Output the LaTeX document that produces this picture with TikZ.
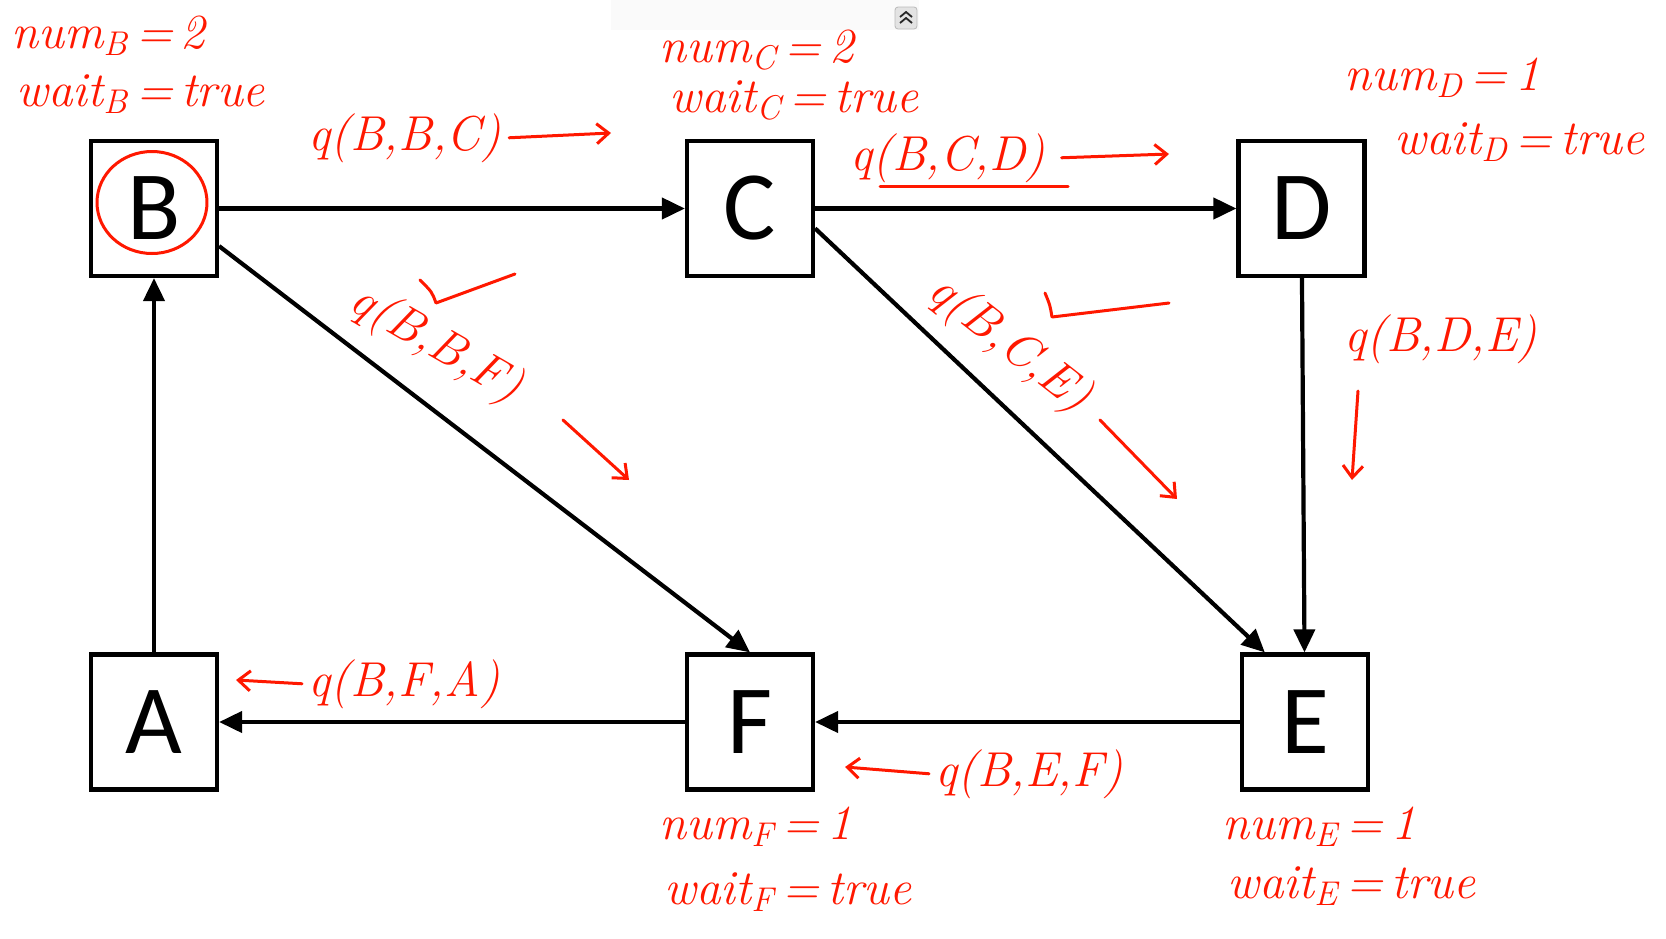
\documentclass[tikz,border=0pt]{standalone}
\usepackage{fontspec}
\usetikzlibrary{arrows.meta}
\newfontfamily\boxfont{Carlito}
\definecolor{penred}{RGB}{255,24,0}

\tikzstyle{vertex}=[draw=black, line width=2.1pt, minimum width=63pt, minimum height=67.5pt, inner sep=0pt, font={\boxfont\fontsize{49}{49}\selectfont}]
\tikzstyle{link}=[line width=2.1pt, -{Triangle[length=11.5pt,width=10.5pt]}]
\tikzstyle{scribble}=[text=penred, font={\itshape\fontsize{24.5}{24.5}\selectfont}, inner sep=0pt, anchor=base west]
\tikzstyle{penline}=[draw=penred, line width=1.5pt, line cap=round, line join=round]
\tikzstyle{penarrow}=[penline, -{Straight Barb[length=6pt,width=10pt]}]

\begin{document}
\begin{tikzpicture}[x=0.5pt,y=-0.5pt]
    \useasboundingbox (0,0) rectangle (1666,938);
    \fill [gray!4] (611,0) rectangle (919,30);
    \node [draw=gray!55, fill=gray!22, rounded corners=1.5pt, minimum width=11pt, minimum height=11pt, inner sep=0pt] (btn) at (906,18) {};
    \draw [gray!30!black, line width=0.9pt] ([shift={(-3pt,0.5pt)}]btn.center) -- ([shift={(0pt,3pt)}]btn.center) -- ([shift={(3pt,0.5pt)}]btn.center)
        ([shift={(-3pt,-2.5pt)}]btn.center) -- ([shift={(0pt,0pt)}]btn.center) -- ([shift={(3pt,-2.5pt)}]btn.center);

    \node [vertex] (B) at (154,208.5) {B};
    \node [vertex] (C) at (750,208.5) {C};
    \node [vertex] (D) at (1301.5,208.5) {D};
    \node [vertex] (A) at (154,722) {A};
    \node [vertex] (F) at (750,722) {F};
    \node [vertex] (E) at (1305,722) {E};

    \draw [link] (A) -- (B);
    \draw [link] (B) -- (C);
    \draw [link] (C) -- (D);
    \draw [link] (B.-30) -- (F.north);
    \draw [link] (C.-17) -- (E.120);
    \draw [link] (D) -- (E);
    \draw [link] (E) -- (F);
    \draw [link] (F) -- (A);

    \draw [penline] (B.center) ++(-2,-6) ellipse [x radius=27.5pt, y radius=25.5pt];

    \node [scribble] (numB) at (11,48) {num\textsubscript{B}\,=\,2};
    \node [scribble] (waitB) at (16,106) {wait\textsubscript{B}\,=\,true};
    \node [scribble] (numC) at (659,62) {num\textsubscript{C}\,=\,2};
    \node [scribble] (waitC) at (669,112) {wait\textsubscript{C}\,=\,true};
    \node [scribble] (numD) at (1344,90) {num\textsubscript{D}\,=\,1};
    \node [scribble] (waitD) at (1394,154) {wait\textsubscript{D}\,=\,true};
    \node [scribble] (numF) at (659,839) {num\textsubscript{F}\,=\,1};
    \node [scribble] (waitF) at (664,904) {wait\textsubscript{F}\,=\,true};
    \node [scribble] (numE) at (1222,839) {num\textsubscript{E}\,=\,1};
    \node [scribble] (waitE) at (1227,898) {wait\textsubscript{E}\,=\,true};

    \node [scribble] (qBBC) at (308,150) {q(B,B,C)};
    \coordinate (bbc-tip) at (611,133);
    \draw [penarrow] ([xshift=4pt]qBBC.east) -- (bbc-tip);

    \node [scribble] (qBCD) at (850,170) {q(B,C,D)};
    \draw [penline] (880,186) -- (1068,186);
    \coordinate (bcd-tip) at (1169,154);
    \draw [penarrow] ([xshift=8pt]qBCD.east) -- (bcd-tip);

    \node [scribble] (qBDE) at (1344,351) {q(B,D,E)};
    \coordinate (bde-tail) at (1358,391);
    \coordinate (bde-tip) at (1352,480);
    \draw [penarrow] (bde-tail) -- (bde-tip);

    \node [scribble, anchor=center, rotate=-30] (qBBF) at (436,345) {q(B,B,F)};
    \draw [penline] (420,280) .. controls (432,292) .. (436,303) -- (515,274);
    \coordinate (bbf-tip) at (629,480);
    \draw [penarrow] (563,420) -- (bbf-tip);

    \node [scribble, anchor=center, rotate=-38] (qBCE) at (1009,345) {q(B,C,E)};
    \draw [penline] (1045,293) .. controls (1050,305) .. (1052,317) -- (1169,303);
    \coordinate (bce-tip) at (1177,499);
    \draw [penarrow] (1100,420) -- (bce-tip);

    \node [scribble] (qBFA) at (308,696) {q(B,F,A)};
    \coordinate (bfa-tip) at (236,680);
    \draw [penarrow] ([xshift=-3pt]qBFA.west) -- (bfa-tip);

    \node [scribble] (qBEF) at (935,786) {q(B,E,F)};
    \coordinate (bef-tip) at (845,767);
    \draw [penarrow] ([xshift=-3pt]qBEF.west) -- (bef-tip);
\end{tikzpicture}
\end{document}
